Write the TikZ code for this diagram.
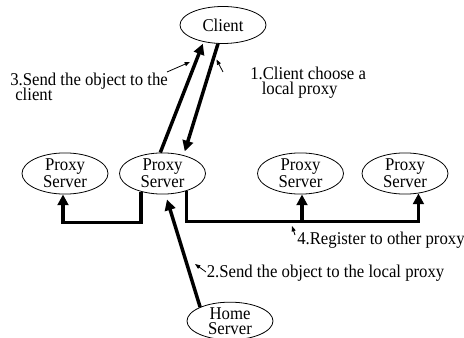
\documentclass[tikz,border=0pt]{standalone}
\usepackage{fontspec}
\setmainfont[FakeStretch=0.93]{Liberation Serif}
\usetikzlibrary{shapes.geometric,arrows.meta,calc}
\begin{document}
\begin{tikzpicture}[x=0.75pt,y=-0.75pt,
  txt/.style={font=\fontsize{13.5}{11}\selectfont},
  host/.style={txt, draw, line width=0.6pt, ellipse, inner sep=0pt,
    minimum width=64.5pt, minimum height=27.75pt, align=center},
  flow/.style={line width=2.6pt, -{Triangle[length=8pt,width=8pt]}},
  hint/.style={line width=0.6pt, -{Triangle[length=4pt,width=3pt]}},
  lbl/.style={txt, anchor=base west, inner sep=0pt}
]
\fill[white] (0,0) rectangle (464,338);
\useasboundingbox (0,0) rectangle (464,338);

% hosts
\node[host] (client) at (223,25) {Client};
\node[host] (p1) at (65,173.5) {Proxy\\Server};
\node[host] (p2) at (162.5,173.5) {Proxy\\Server};
\node[host] (p3) at (300.5,173.5) {Proxy\\Server};
\node[host] (p4) at (405,173.5) {Proxy\\Server};
\node[host] (home) at (230,321) {Home\\Server};

% request and reply between client and local proxy
\draw[flow, shorten >=1.5pt] (p2.96) -- (client.221);
\draw[flow, shorten >=3pt] (client.255) -- (p2.41);

% object fetched from the home server
\draw[flow, shorten >=4pt] (home.155) -- (p2.-82);

% registration with the other proxies
\draw[flow] (p2.220) |- ($(p1.south)+(-2,28)$) -- ($(p1.south)+(-2,0)$);
\draw[flow] (p2.-36) |- ($(p4.-56)+(0,28)$) -- (p4.-56);
\draw[flow] ($(p3.south)+(1.5,28)$) -- ($(p3.south)+(1.5,0)$);

% step labels
\node[lbl] (l3a) at (10,86) {3.Send the object to the};
\node[lbl] (l3b) at (15,101) {client};
\node[lbl] (l1a) at (250,80) {1.Client choose a};
\node[lbl] (l1b) at (261.5,95) {local proxy};
\node[lbl] (l4) at (297,245) {4.Register to other proxy};
\node[lbl] (l2) at (206.5,277) {2.Send the object to the local proxy};

% label pointers
\coordinate (h3s) at (167,72);   \coordinate (h3e) at (190,62);
\coordinate (h1s) at (223,72);   \coordinate (h1e) at (216.5,59.5);
\coordinate (h4s) at (295,235);  \coordinate (h4e) at (292,226);
\coordinate (h2s) at (206,272);  \coordinate (h2e) at (195,264);
\draw[hint] (h3s) -- (h3e);
\draw[hint] (h1s) -- (h1e);
\draw[hint] (h4s) -- (h4e);
\draw[hint] (h2s) -- (h2e);
\end{tikzpicture}
\end{document}
